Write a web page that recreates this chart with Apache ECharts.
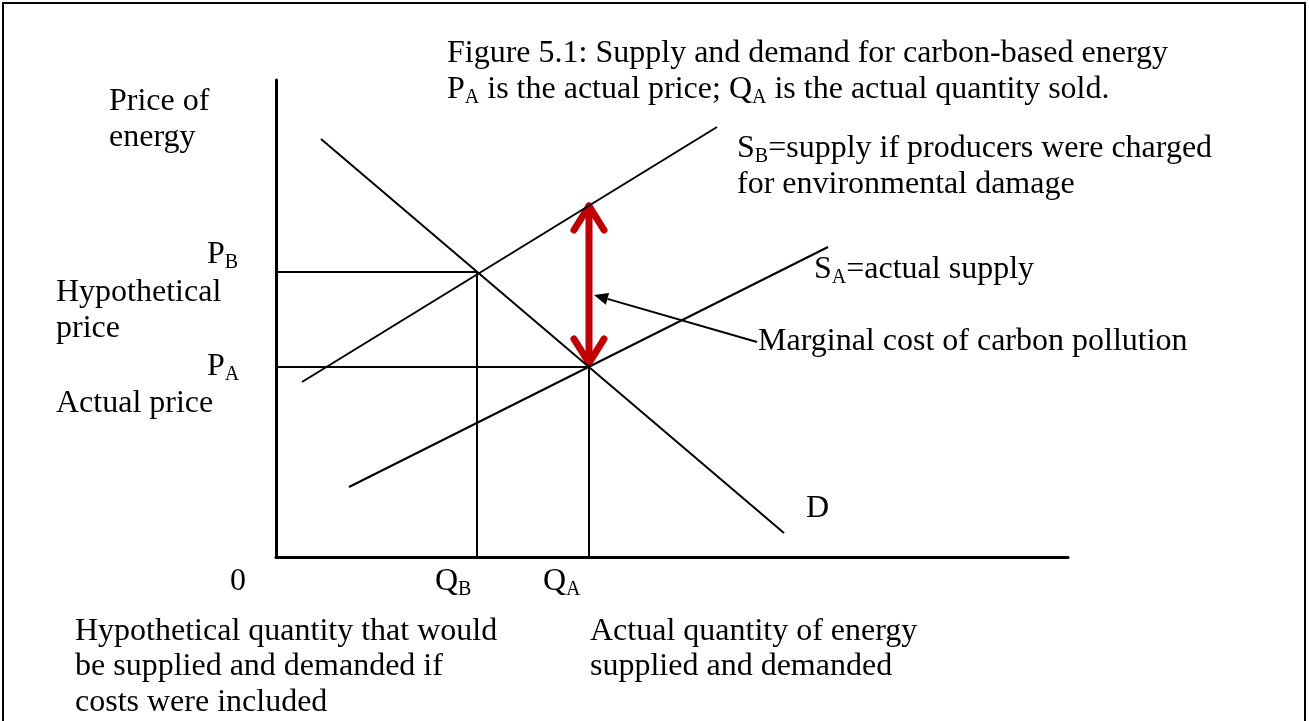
<!DOCTYPE html>
<html>
<head>
<meta charset="utf-8">
<script src="https://cdn.jsdelivr.net/npm/echarts@6/dist/echarts.min.js"></script>
<style>
  html, body { margin: 0; padding: 0; background: #fff; }
  #main { width: 1309px; height: 721px; }
</style>
</head>
<body>
<div id="main"></div>
<script>
// curves (quantity, price)
const demand = [[45, 418], [508, 24]];
const supplyB = [[26, 175], [441, 430]];
const supplyA = [[73, 70], [552, 310]];
// guides from the axes to the two equilibria
const guideB = [[0, 285], [201, 285], [201, 0]];
const guideA = [[0, 190], [313, 190], [313, 0]];
// red double arrow = marginal cost gap, [x, yTop, x, yBottom]
const gapArrow = [[313, 354, 313, 191]];
// pointer from the label to the red arrow, [tailX, tailY, tipX, tipY]
const pointer = [[481, 215, 318, 262]];

// texts: [rich text, left, middle y]
const labels = [
  ['Figure 5.1: Supply and demand for carbon-based energy', 447, 54],
  ['P{s|A} is the actual price; Q{s|A} is the actual quantity sold.', 447, 90],
  ['Price of', 109, 102],
  ['energy', 109, 138],
  ['S{s|B}=supply if producers were charged', 737, 149],
  ['for environmental damage', 737, 185],
  ['P{s|B}', 207, 255],
  ['S{s|A}=actual supply', 814, 270],
  ['Hypothetical', 56, 293],
  ['price', 56, 329],
  ['Marginal cost of carbon pollution', 758, 342],
  ['P{s|A}', 207, 367],
  ['Actual price', 56, 404],
  ['D', 806, 509],
  ['0', 230, 582],
  ['Q{s|B}', 435, 582],
  ['Q{s|A}', 543, 582],
  ['Hypothetical quantity that would', 75, 632],
  ['be supplied and demanded if', 75, 667],
  ['costs were included', 75, 703],
  ['Actual quantity of energy', 590, 632],
  ['supplied and demanded', 590, 667]
];

const FONT = 'Liberation Serif, Times New Roman, serif';

let myChart = echarts.init(document.getElementById('main'));

function lineSeries(data) {
  return {
    type: 'line',
    data: data,
    showSymbol: false,
    silent: true,
    lineStyle: { color: '#000', width: 2 }
  };
}

let option = {
  animation: false,
  backgroundColor: '#fff',
  grid: { left: 276, top: 80, width: 792, height: 477 },
  xAxis: {
    type: 'value', min: 0, max: 792,
    axisLine: { show: true, lineStyle: { color: '#000', width: 3 } },
    axisTick: { show: false },
    axisLabel: { show: false },
    splitLine: { show: false }
  },
  yAxis: {
    type: 'value', min: 0, max: 477,
    axisLine: { show: true, lineStyle: { color: '#000', width: 3 } },
    axisTick: { show: false },
    axisLabel: { show: false },
    splitLine: { show: false }
  },
  graphic: [
    {
      type: 'rect',
      shape: { x: 3, y: 3, width: 1302, height: 740 },
      style: { fill: 'none', stroke: '#000', lineWidth: 2 },
      silent: true
    }
  ].concat(labels.map(function (l) {
    return {
      type: 'text',
      x: l[1],
      y: l[2],
      silent: true,
      style: {
        text: '{n|' + l[0].replace(/\{s\|(\w)\}/g, '}{s|$1}{n|') + '}',
        verticalAlign: 'middle',
        fill: '#000',
        rich: {
          n: { fontFamily: FONT, fontSize: 32, lineHeight: 36, verticalAlign: 'middle', color: '#000' },
          s: { fontFamily: FONT, fontSize: 20, lineHeight: 22, verticalAlign: 'bottom', color: '#000' }
        }
      }
    };
  })),
  series: [
    lineSeries(demand),
    lineSeries(supplyB),
    lineSeries(supplyA),
    lineSeries(guideB),
    lineSeries(guideA),
    {
      type: 'custom',
      silent: true,
      clip: false,
      data: gapArrow,
      renderItem: function (params, api) {
        let a = api.coord([api.value(0), api.value(1)]);
        let b = api.coord([api.value(2), api.value(3)]);
        let st = { stroke: '#C00000', lineWidth: 7, lineCap: 'round', lineJoin: 'round', fill: 'none' };
        return {
          type: 'group',
          children: [
            { type: 'line', shape: { x1: a[0], y1: a[1] + 3, x2: b[0], y2: b[1] - 3 }, style: st },
            { type: 'polyline', shape: { points: [[a[0] - 15, a[1] + 27], [a[0], a[1] + 3], [a[0] + 15, a[1] + 27]] }, style: st },
            { type: 'polyline', shape: { points: [[b[0] - 15, b[1] - 27], [b[0], b[1] - 3], [b[0] + 15, b[1] - 27]] }, style: st }
          ]
        };
      }
    },
    {
      type: 'custom',
      silent: true,
      clip: false,
      data: pointer,
      renderItem: function (params, api) {
        let t = api.coord([api.value(0), api.value(1)]);
        let h = api.coord([api.value(2), api.value(3)]);
        let dx = h[0] - t[0], dy = h[1] - t[1];
        let len = Math.sqrt(dx * dx + dy * dy);
        let ux = dx / len, uy = dy / len;
        let bx = h[0] - ux * 14, by = h[1] - uy * 14;
        return {
          type: 'group',
          children: [
            { type: 'line', shape: { x1: t[0], y1: t[1], x2: bx, y2: by }, style: { stroke: '#000', lineWidth: 2 } },
            {
              type: 'polygon',
              shape: { points: [[h[0], h[1]], [bx - uy * 6, by + ux * 6], [bx + uy * 6, by - ux * 6]] },
              style: { fill: '#000' }
            }
          ]
        };
      }
    }
  ]
};

myChart.setOption(option);
</script>
</body>
</html>
